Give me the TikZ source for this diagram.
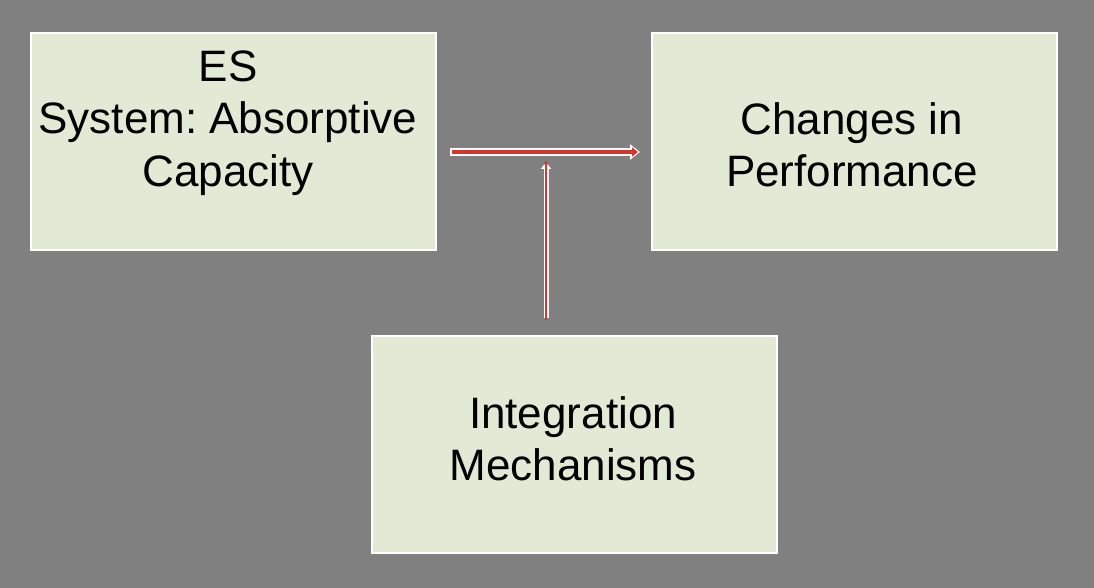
\documentclass[tikz,border=0pt]{standalone}
\usepackage{fontspec}
\setmainfont{Liberation Sans}
\usetikzlibrary{arrows.meta}
\definecolor{bg}{RGB}{128,128,128}
\definecolor{boxfill}{RGB}{226,234,213}
\definecolor{arrred}{RGB}{211,56,48}
\tikzset{
  box/.style={draw=white, line width=2pt, fill=boxfill, minimum width=405pt, minimum height=217pt, inner sep=0pt},
  lbl/.style={align=center, font=\fontsize{44}{52.5}\selectfont\frenchspacing, text=black, inner sep=0pt},
  outerarrow/.style={draw=white, line width=#1},
  innerarrow/.style={draw=arrred, line width=#1},
}
\begin{document}
\begin{tikzpicture}[x=1pt,y=-1pt]
\fill[bg] (0,0) rectangle (1094,588);
\useasboundingbox (0,0) rectangle (1094,588);
\node[box] (es) at (233.5,141.5) {};
\node[box] (perf) at (854.5,141.5) {};
\node[box] (integ) at (574.5,444) {};
\node[lbl] (estxt) at (228,123) {ES\\System: Absorptive\\Capacity};
\node[lbl] (perftxt) at (852,145) {Changes in\\Performance};
\node[lbl] (integtxt) at (573,439) {Integration\\Mechanisms};
\coordinate (hs) at (450,152);
\coordinate (he) at (640,152);
\coordinate (vs) at (546,318);
\coordinate (ve) at (546,162);
\draw[outerarrow=7.5pt, -{Triangle[width=15pt,length=10pt]}] (hs) -- (he);
\draw[innerarrow=4pt, -{Triangle[width=9pt,length=6pt]}] ([xshift=1.5pt]hs) -- ([xshift=-2pt]he);
\draw[outerarrow=5pt, -{Triangle[width=10pt,length=7pt]}] (vs) -- (ve);
\draw[innerarrow=2pt, -{Triangle[width=5pt,length=4pt]}] ([yshift=-1.5pt]vs) -- ([yshift=1.5pt]ve);
\end{tikzpicture}
\end{document}
